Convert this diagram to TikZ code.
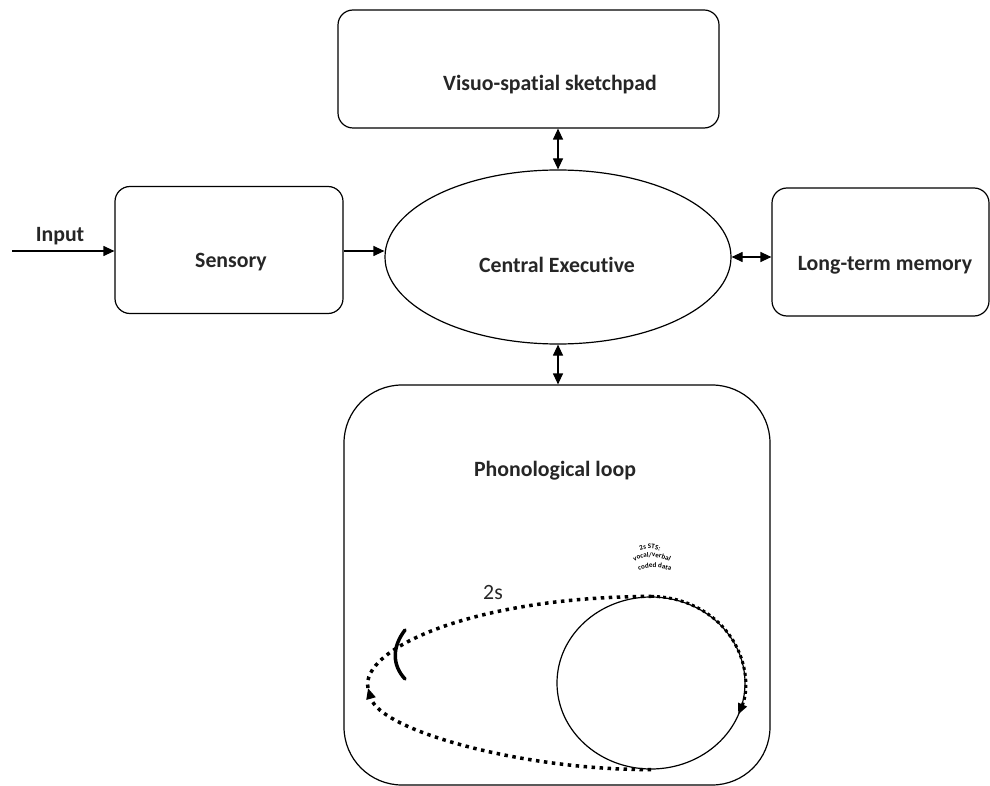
\documentclass[tikz,border=0pt]{standalone}
\usepackage{fontspec}
\setmainfont{Carlito}[Ligatures=NoCommon]
\usetikzlibrary{arrows.meta,shapes.geometric,decorations.text}
\definecolor{txt}{HTML}{262626}
\begin{document}
\begin{tikzpicture}[x=1pt,y=-1pt,
 box/.style={draw,line width=1.2pt,rounded corners=15pt,inner sep=0pt,rectangle},
 lbl/.style={font=\fontsize{21.8}{25}\selectfont\bfseries,text=txt,inner sep=0pt},
 plain/.style={font=\fontsize{21.8}{25}\selectfont,text=txt,inner sep=0pt},
 arr/.style={line width=1.2pt,-{Triangle[length=11pt,width=10pt]}},
 darr/.style={line width=1.2pt,{Triangle[length=11pt,width=10pt]}-{Triangle[length=11pt,width=10pt]}},
 dots/.style={line width=3.5pt,dash pattern=on 3.5pt off 4.5pt},
 dotsb/.style={line width=3pt,dash pattern=on 3pt off 3pt},
 tip/.style={-{Triangle[length=11pt,width=9pt]}},
 tiny/.style={decorate,decoration={text along path,text align=center}},
]
\useasboundingbox (0,0) rectangle (990,786);
% boxes
\node[box,minimum width=381pt,minimum height=118pt] (vis) at (528.5,69) {};
\node[box,minimum width=228pt,minimum height=127pt] (sens) at (229,250) {};
\node[box,minimum width=217pt,minimum height=128pt] (ltm) at (880.5,252) {};
\node[draw,line width=1.2pt,ellipse,inner sep=0pt,minimum width=346pt,minimum height=174pt] (ce) at (558,257) {};
\node[box,rounded corners=58pt,minimum width=426pt,minimum height=400pt] (pl) at (557,585) {};
\node[draw,line width=1.2pt,ellipse,inner sep=0pt,minimum width=188pt,minimum height=172pt] (ci) at (651,683) {};
% labels
\node[lbl] (tvis) at (550,85) {Visuo-spatial sketchpad};
\node[lbl] (tsens) at (231,262) {Sensory};
\node[lbl] (tce) at (557,265) {Central Executive};
\node[lbl] (tltm) at (885,265) {Long-term memory};
\node[lbl] (tpl) at (555,471) {Phonological loop};
\node[lbl] (tin) at (60,236) {Input};
\node[plain] (t2s) at (493,593) {2s};
% connectors
\coordinate (in0) at (12,251);
\draw[arr] (in0) -- (in0 -| sens.west);
\draw[arr] (sens.east |- in0) -- (in0 -| ce.west);
\draw[darr] (ce.north) -- (ce.north |- vis.south);
\draw[darr] (ce.south) -- (ce.south |- pl.north);
\draw[darr] (ce.east) -- (ce.east -| ltm.west);
% dotted loop
\coordinate (lp) at (368,688);
\draw[dots,tip] (ci.south) .. controls (520,770) and (380,730) .. (lp);
\draw[dots] (lp) .. controls (360,650) and (470,597) .. (ci.north);
\draw[dotsb,tip] (ci.north) arc[start angle=-90,end angle=22,x radius=94,y radius=86];
% bracket
\draw[line width=3.5pt,line cap=round] (405,630) .. controls (392,647) and (392,665) .. (405,679);
% tiny arched text
\path[tiny,decoration={text={|\fontsize{7}{7}\selectfont\bfseries|2s STS:}}] (630,557) .. controls (642,546) and (657,546) .. (670,557);
\path[tiny,decoration={text={|\fontsize{7}{7}\selectfont\bfseries|vocal/verbal}}] (624,569) .. controls (640,553) and (662,553) .. (680,569);
\path[tiny,decoration={text={|\fontsize{7}{7}\selectfont\bfseries|coded data}}] (622,582) .. controls (640,563) and (666,563) .. (688,582);
\end{tikzpicture}
\end{document}
